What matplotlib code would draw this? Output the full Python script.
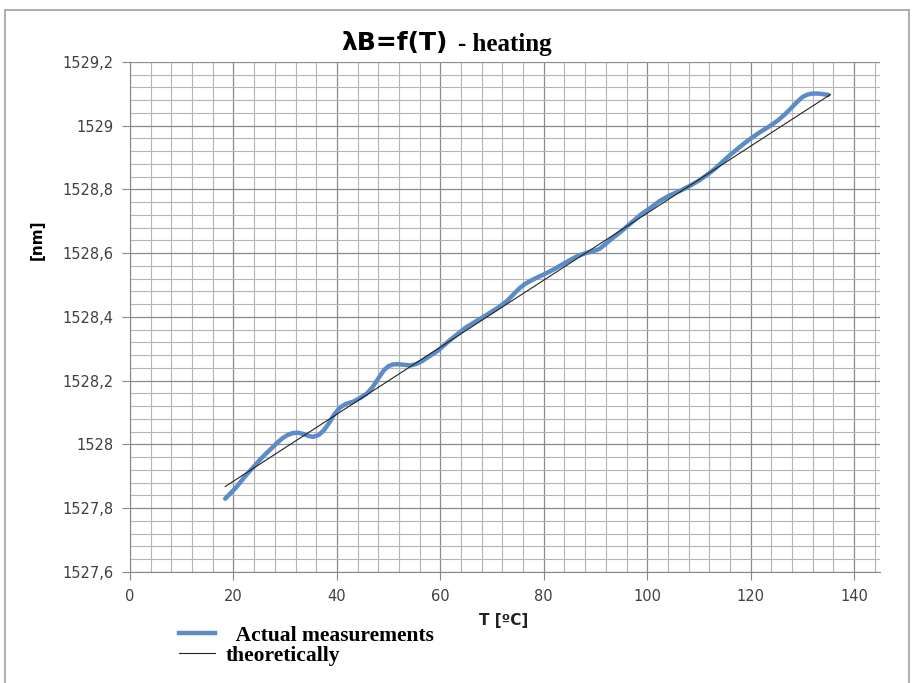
import matplotlib
matplotlib.use("Agg")
import matplotlib.pyplot as plt
from matplotlib.ticker import MultipleLocator, FuncFormatter
from matplotlib.lines import Line2D
from matplotlib.patches import Rectangle

temp_meas = [18.4, 19.5, 20.5, 21.5, 22.5, 23.8, 25.0, 26.2, 27.5, 28.5, 29.5,
             30.5, 31.5, 32.5, 33.5, 34.5, 35.4, 36.5, 37.5, 38.5, 39.5, 40.6,
             41.8, 43.1, 44.5, 45.8, 46.8, 47.6, 48.4, 49.2, 50.0, 50.8, 51.8,
             53.0, 54.2, 55.3, 56.5, 58.0, 59.5, 61.9, 65.0, 68.3, 71.5, 73.0,
             74.2, 75.3, 76.4, 77.6, 79.0, 80.6, 82.0, 83.5, 85.0, 86.5, 88.0,
             89.5, 90.8, 92.0, 93.5, 95.3, 97.0, 98.8, 100.6, 102.5, 104.4,
             106.5, 108.3, 110.0, 111.5, 113.0, 114.5, 116.0, 118.0, 120.0,
             122.0, 123.8, 125.2, 126.5, 127.8, 129.0, 130.0, 131.0, 132.0,
             133.0, 134.0, 135.0]
lam_meas = [1527.830, 1527.848, 1527.865, 1527.885, 1527.905, 1527.928,
            1527.950, 1527.970, 1527.990, 1528.006, 1528.020, 1528.030,
            1528.036, 1528.037, 1528.033, 1528.027, 1528.024, 1528.030,
            1528.045, 1528.068, 1528.095, 1528.116, 1528.128, 1528.134,
            1528.146, 1528.160, 1528.178, 1528.197, 1528.217, 1528.235,
            1528.246, 1528.251, 1528.252, 1528.250, 1528.248, 1528.252,
            1528.262, 1528.278, 1528.294, 1528.328, 1528.368, 1528.400,
            1528.433, 1528.452, 1528.472, 1528.490, 1528.504, 1528.515,
            1528.526, 1528.538, 1528.550, 1528.564, 1528.578, 1528.591,
            1528.600, 1528.606, 1528.614, 1528.630, 1528.650, 1528.673,
            1528.697, 1528.722, 1528.742, 1528.765, 1528.782, 1528.797,
            1528.812, 1528.828, 1528.845, 1528.864, 1528.886, 1528.908,
            1528.935, 1528.960, 1528.982, 1529.000, 1529.016, 1529.034,
            1529.055, 1529.075, 1529.090, 1529.098, 1529.101, 1529.101,
            1529.099, 1529.097]

# theoretical straight line (end points)
temp_theo = [18.4, 135.4]
lam_theo = [1527.868, 1529.098]

fig = plt.figure(figsize=(9.14, 6.83), dpi=100)
ax = fig.add_axes([130/914, 111/683, 750/914, 510/683])

ax.plot(temp_meas, lam_meas, color='#5b8cc8', lw=3.2, solid_capstyle='round', zorder=3)
ax.plot(temp_theo, lam_theo, color='#222222', lw=0.8, zorder=4)

ax.set_xlim(0, 145)
ax.set_ylim(1527.6, 1529.2)
ax.xaxis.set_major_locator(MultipleLocator(20))
ax.xaxis.set_minor_locator(MultipleLocator(4))
ax.yaxis.set_major_locator(MultipleLocator(0.2))
ax.yaxis.set_minor_locator(MultipleLocator(0.04))
ax.grid(which='major', color='#8a8a8a', lw=0.9)
ax.grid(which='minor', color='#b4b4b4', lw=0.8)
ax.set_axisbelow(True)

def fmt_y(v, pos):
    s = ('%.1f' % v).rstrip('0').rstrip('.')
    return s.replace('.', ',')

ax.yaxis.set_major_formatter(FuncFormatter(fmt_y))
ax.tick_params(which='major', length=6, color='#888888', labelsize=10.5,
               labelcolor='#404040', pad=6)
ax.tick_params(which='minor', length=0)
for s in ['top', 'right']:
    ax.spines[s].set_visible(False)
for s in ['left', 'bottom']:
    ax.spines[s].set_color('#888888')

fig.text(448/914, 1 - 43/683, 'λB=f(T)', ha='right', va='center',
         fontsize=18, fontweight='bold', family='DejaVu Sans')
fig.text(458/914, 1 - 44/683, '- heating', ha='left', va='center',
         fontsize=18, fontweight='bold', family='Liberation Serif')

fig.text(37/914, 1 - 240/683, '[nm]', rotation=90, ha='center', va='center',
         fontsize=11, fontweight='bold')
fig.text(504/914, 1 - 621/683, 'T [ºC]', ha='center', va='center',
         fontsize=11, fontweight='bold', color='#222222')

handles = [Line2D([], [], color='#5b8cc8', lw=3.2),
           Line2D([], [], color='#222222', lw=0.8)]
fig.legend(handles, ['  Actual measurements', 'theoretically'],
           loc='upper left', bbox_to_anchor=(170/914, 1 - 617/683),
           frameon=False, prop={'family': 'Liberation Serif', 'weight': 'bold', 'size': 15.5},
           handlelength=1.7, handletextpad=0.5, labelspacing=0.0, borderaxespad=0)

fig.patches.append(Rectangle((5/914, -0.01), 904/914, 1 - 10/683 + 0.01,
                             transform=fig.transFigure, fill=False,
                             edgecolor='#a0a0a0', lw=1.2))

fig.savefig('out.png', dpi=100)
